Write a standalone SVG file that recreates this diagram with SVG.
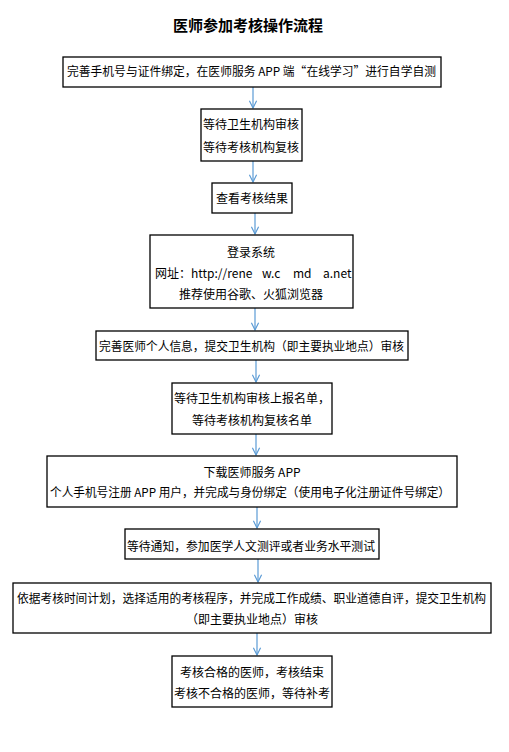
<svg xmlns="http://www.w3.org/2000/svg" width="509" height="752" viewBox="0 0 509 752">
<defs>
<style>
.box{fill:#fff;stroke:#000;stroke-width:1.3}
.t{font-family:"Noto Sans CJK SC","Liberation Sans",sans-serif;font-size:12px;fill:#000;text-anchor:middle}
.title{font-family:"Noto Sans CJK SC","Liberation Sans",sans-serif;font-size:15px;font-weight:bold;fill:#000;text-anchor:middle}
.c{stroke:#5b9bd5;stroke-width:1.2;fill:none}
</style>
<marker id="ah" viewBox="0 0 10 10" refX="9" refY="5" markerWidth="9" markerHeight="9" markerUnits="userSpaceOnUse" orient="auto">
<path d="M1,1 L9,5 L1,9" fill="none" stroke="#5b9bd5" stroke-width="1.3"/>
</marker>
</defs>
<rect width="509" height="752" fill="#fff"/>
<text class="title" x="248" y="31">医师参加考核操作流程</text>
<g id="connectors">
<line class="c" x1="253" y1="87" x2="253" y2="108" marker-end="url(#ah)"/>
<line class="c" x1="253" y1="161" x2="253" y2="182" marker-end="url(#ah)"/>
<line class="c" x1="255" y1="213" x2="255" y2="234" marker-end="url(#ah)"/>
<line class="c" x1="255" y1="308" x2="255" y2="330" marker-end="url(#ah)"/>
<line class="c" x1="256" y1="360" x2="256" y2="382" marker-end="url(#ah)"/>
<line class="c" x1="256" y1="434" x2="256" y2="455" marker-end="url(#ah)"/>
<line class="c" x1="257" y1="507" x2="257" y2="528" marker-end="url(#ah)"/>
<line class="c" x1="258" y1="559" x2="258" y2="582" marker-end="url(#ah)"/>
<line class="c" x1="257" y1="633" x2="257" y2="655" marker-end="url(#ah)"/>
</g>
<g id="n1"><rect class="box" x="63" y="57" width="378" height="30"/><text class="t" x="251.5" y="76" textLength="369" lengthAdjust="spacingAndGlyphs">完善手机号与证件绑定，在医师服务 APP 端“在线学习”进行自学自测</text></g>
<g id="n2"><rect class="box" x="201" y="109" width="101" height="52"/><text class="t" x="251" y="129">等待卫生机构审核</text><text class="t" x="251" y="152">等待考核机构复核</text></g>
<g id="n3"><rect class="box" x="212" y="183" width="80" height="30"/><text class="t" x="252" y="203">查看考核结果</text></g>
<g id="n4"><rect class="box" x="150" y="235" width="203" height="73"/><text class="t" x="251" y="257">登录系统</text><text class="t" x="155" y="278" style="text-anchor:start">网址：http://rene</text><text class="t" x="262" y="278" style="text-anchor:start">w.c</text><text class="t" x="293" y="278" style="text-anchor:start">md</text><text class="t" x="323" y="278" style="text-anchor:start">a.net</text><text class="t" x="251" y="299">推荐使用谷歌、火狐浏览器</text></g>
<g id="n5"><rect class="box" x="96" y="331" width="312" height="29"/><text class="t" x="251.5" y="351" textLength="305" lengthAdjust="spacingAndGlyphs">完善医师个人信息，提交卫生机构（即主要执业地点）审核</text></g>
<g id="n6"><rect class="box" x="172" y="383" width="160" height="51"/><text class="t" x="252" y="403">等待卫生机构审核上报名单，</text><text class="t" x="252" y="425">等待考核机构复核名单</text></g>
<g id="n7"><rect class="box" x="47" y="456" width="410" height="51"/><text class="t" x="252" y="477">下载医师服务 APP</text><text class="t" x="250" y="497" textLength="400" lengthAdjust="spacingAndGlyphs">个人手机号注册 APP 用户，并完成与身份绑定（使用电子化注册证件号绑定）</text></g>
<g id="n8"><rect class="box" x="125" y="529" width="254" height="30"/><text class="t" x="251" y="551" textLength="248" lengthAdjust="spacingAndGlyphs">等待通知，参加医学人文测评或者业务水平测试</text></g>
<g id="n9"><rect class="box" x="13" y="583" width="478" height="50"/><text class="t" x="251.5" y="603" textLength="469" lengthAdjust="spacingAndGlyphs">依据考核时间计划，选择适用的考核程序，并完成工作成绩、职业道德自评，提交卫生机构</text><text class="t" x="252" y="624">（即主要执业地点）审核</text></g>
<g id="n10"><rect class="box" x="172" y="656" width="160" height="51"/><text class="t" x="252" y="677">考核合格的医师，考核结束</text><text class="t" x="252" y="698">考核不合格的医师，等待补考</text></g>
</svg>
